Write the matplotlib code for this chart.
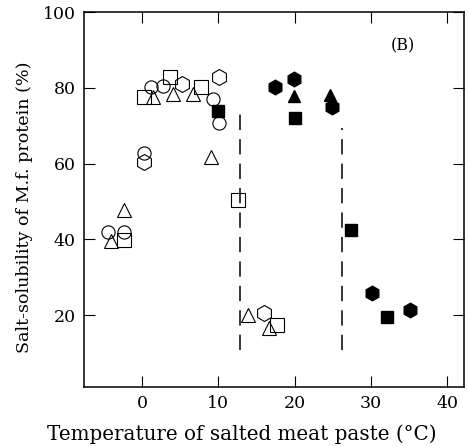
import matplotlib
matplotlib.use("Agg")
import matplotlib.pyplot as plt

# Salt-solubility of myofibrillar protein vs. paste temperature
open_circle_x = [-4.5, -2.3, 1.2, 2.8, 9.3, 10.1, 0.3]
open_circle_y = [41.9, 41.9, 80.2, 80.5, 77.0, 70.6, 62.7]

open_square_x = [-2.3, 0.3, 3.7, 7.7, 12.6, 17.7]
open_square_y = [39.7, 77.5, 82.9, 80.1, 50.4, 17.4]

open_triangle_x = [-4.1, -2.4, 1.5, 4.1, 6.7, 9.1, 13.9, 16.6]
open_triangle_y = [39.5, 47.6, 77.5, 78.3, 78.3, 61.7, 20.0, 16.6]

open_hexagon_x = [5.2, 10.1, 0.3, 16.0]
open_hexagon_y = [81.1, 82.9, 60.3, 20.5]

filled_hexagon_x = [17.4, 19.9, 24.9, 30.1, 35.1]
filled_hexagon_y = [80.3, 82.3, 75.0, 25.9, 21.3]

filled_triangle_x = [19.9, 24.7]
filled_triangle_y = [77.9, 78.0]

filled_square_x = [10.0, 20.0, 27.4, 32.1]
filled_square_y = [73.9, 71.9, 42.4, 19.4]

# transition temperatures (dashed markers)
boundary_x = [12.8, 26.2]
boundary_lo = [10.8, 10.8]
boundary_hi = [73.0, 69.5]

x_ticks = [0, 10, 20, 30, 40]
y_ticks = [20, 40, 60, 80, 100]

plt.rcParams["font.family"] = ["DejaVu Serif"]

fig = plt.figure(figsize=(4.68, 4.46), dpi=100)
ax = fig.add_axes([84 / 468, 59 / 446, 380 / 468, 375 / 446])

open_kw = dict(linestyle="none", markerfacecolor="none", markeredgecolor="black",
               markeredgewidth=0.8)
fill_kw = dict(linestyle="none", color="black")

ax.plot(open_circle_x, open_circle_y, marker="o", markersize=9.5, **open_kw)
ax.plot(open_square_x, open_square_y, marker="s", markersize=9.5, **open_kw)
ax.plot(open_triangle_x, open_triangle_y, marker="^", markersize=10, **open_kw)
ax.plot(open_hexagon_x, open_hexagon_y, marker="h", markersize=11.5, **open_kw)
ax.plot(filled_hexagon_x, filled_hexagon_y, marker="h", markersize=10.5, **fill_kw)
ax.plot(filled_triangle_x, filled_triangle_y, marker="^", markersize=9, **fill_kw)
ax.plot(filled_square_x, filled_square_y, marker="s", markersize=8.5, **fill_kw)

for bx, lo, hi in zip(boundary_x, boundary_lo, boundary_hi):
    ax.plot([bx, bx], [lo, hi], color="black", linewidth=1.1,
            linestyle=(0, (10, 6)))

ax.set_xlim(-7.6, 42.2)
ax.set_ylim(1, 100)
ax.set_xticks(x_ticks)
ax.set_yticks(y_ticks)
ax.tick_params(direction="in", length=8, width=0.8, top=True, right=True,
               labelsize=12.5, pad=6)
for s in ax.spines.values():
    s.set_linewidth(1.1)

ax.set_xlabel("Temperature of salted meat paste (°C)", fontsize=14.3)
ax.xaxis.set_label_coords((242 - 84) / 380, -0.10)
ax.set_ylabel("Salt-solubility of M.f. protein (%)", fontsize=12.6)
ax.yaxis.set_label_coords(-0.135, (446 - 207 - 59) / 375)
ax.text(34.2, 91, "(B)", fontsize=11.5, ha="center", va="center")

fig.savefig("out.png", dpi=100)
